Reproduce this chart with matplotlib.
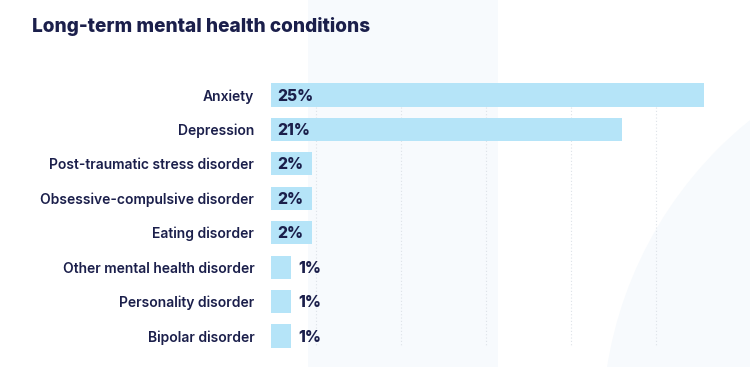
import matplotlib
matplotlib.use("Agg")
import matplotlib.pyplot as plt
from matplotlib.patches import Rectangle, Ellipse

conditions = ["Anxiety", "Depression", "Post-traumatic stress disorder",
              "Obsessive-compulsive disorder", "Eating disorder",
              "Other mental health disorder", "Personality disorder",
              "Bipolar disorder"]
values = [25.4, 20.6, 2.4, 2.4, 2.4, 1.2, 1.2, 1.2]
labels = ["25%", "21%", "2%", "2%", "2%", "1%", "1%", "1%"]
grid_x = [2.64, 7.63, 12.62, 17.61, 22.6]

navy = "#1b1f4b"
bar_col = "#b5e4f8"
bg_col = "#f7fafd"

W, H = 750, 367
fig = plt.figure(figsize=(W / 100, H / 100), dpi=100)
fig.patch.set_facecolor("white")

# decorative background shapes
fig.patches.append(Rectangle((308 / W, 0), 190 / W, 1, transform=fig.transFigure,
                             facecolor=bg_col, edgecolor="none", zorder=-2))
fig.patches.append(Ellipse((998.6 / W, -61.8 / H), 2 * 396.4 / W, 2 * 396.4 / H,
                           transform=fig.transFigure, facecolor=bg_col,
                           edgecolor="none", zorder=-2))

ax = fig.add_axes([271 / W, 1 - 353.25 / H, 1 - 271 / W, 275.5 / H])
ax.patch.set_alpha(0)
ax.set_xlim(0, (W - 271) / 17.05)
ax.set_ylim(7.5, -0.5)

ypos = list(range(len(conditions)))
ax.vlines(grid_x, 0.35, 7.32, colors="#dde2e8", linestyles=(0, (1, 2)),
          linewidth=0.8, zorder=1)
ax.barh(ypos, values, height=0.67, color=bar_col, zorder=2)

for y, v, lab in zip(ypos, values, labels):
    x = 0.35 if v >= 2 else v + 0.4
    ax.text(x, y + 0.03, lab, va="center", ha="left", fontsize=11.2,
            fontweight="heavy", color=navy, family="Inter", zorder=3)

ax.set_yticks(ypos)
ax.set_yticklabels(conditions, fontsize=10, fontweight="semibold",
                   color=navy, family="Inter")
ax.tick_params(axis="y", length=0, pad=12)
ax.set_xticks([])
for s in ax.spines.values():
    s.set_visible(False)

fig.text(32 / W, 1 - 26 / H, "Long-term mental health conditions",
         fontsize=13.7, fontweight="heavy", color=navy, family="Inter",
         va="center", ha="left")

fig.savefig("out.png", dpi=100)
